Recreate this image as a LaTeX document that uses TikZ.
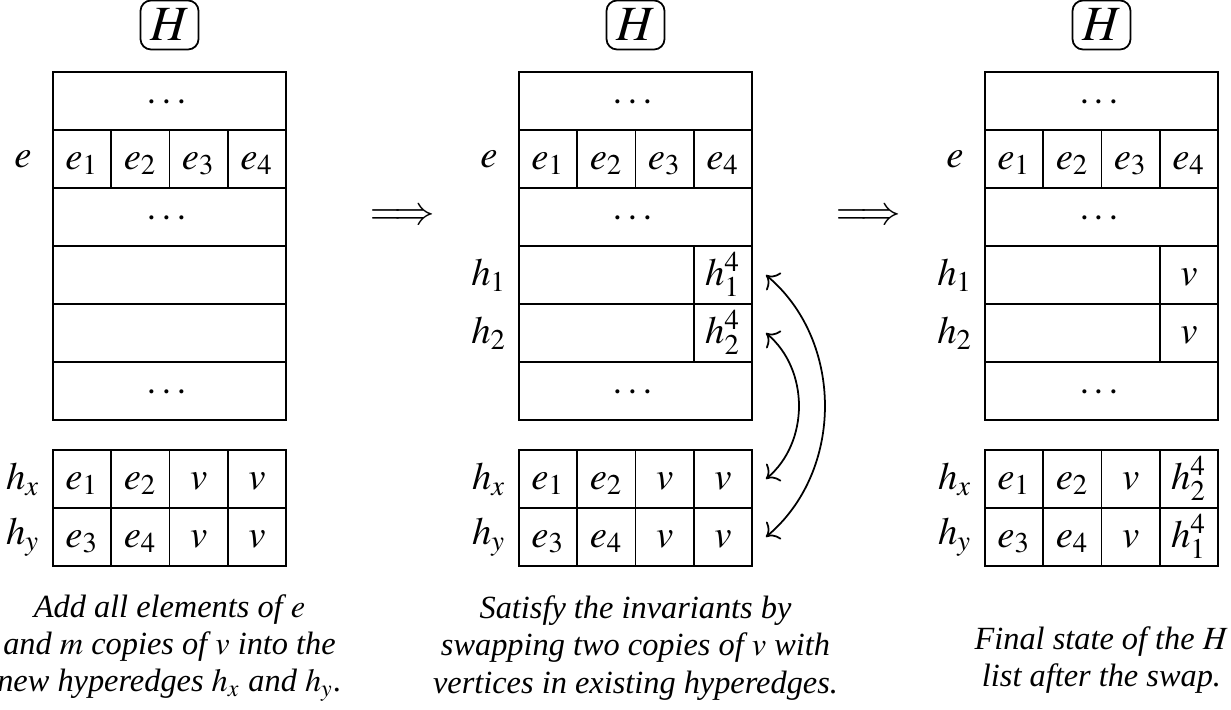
\documentclass[tikz,border=0pt]{standalone}
\usepackage{amsmath}
\usepackage{mathptmx}
\usepackage[no-math]{fontspec}
\setmainfont{Liberation Serif}
\usetikzlibrary{arrows.meta}

\tikzset{
  cell/.style={draw, line width=0.5pt, minimum width=0.5825cm, minimum height=0.58cm, inner sep=0pt, text height=1.6ex, text depth=0.35ex},
  fullrow/.style={cell, minimum width=2.33cm},
  widecell/.style={cell, minimum width=1.7475cm},
  hbox/.style={draw, line width=0.5pt, rounded corners=3pt, minimum width=0.58cm, minimum height=0.49cm, inner sep=0pt, font=\fontsize{14}{16}\selectfont},
  caption/.style={align=center, inner sep=0pt, font=\fontsize{9.2}{10.6}\selectfont\itshape},
  implies/.style={font=\fontsize{11.5}{13}\selectfont},
}

\begin{document}
\begin{tikzpicture}[x=0.01cm, y=-0.01cm, font=\fontsize{11}{13}\selectfont, >={Computer Modern Rightarrow[scale=1.15]}]
\useasboundingbox (0,0) rectangle (1231,710);

% left panel
\node[hbox] (HL) at (169.5,25) {$H$};
\node[fullrow] (Ltop) at (169.5,101) {$\cdots$};
\node (Le) at (23,159) {$e$};
\node[cell] (Le1) at (82.1,159) {$e_1$};
\node[cell] (Le2) at (140.4,159) {$e_2$};
\node[cell] (Le3) at (198.6,159) {$e_3$};
\node[cell] (Le4) at (256.9,159) {$e_4$};
\node[fullrow] (Lmid) at (169.5,217) {$\cdots$};
\node[fullrow] (La) at (169.5,275) {};
\node[fullrow] (Lb) at (169.5,333) {};
\node[fullrow] (Lbot) at (169.5,391) {$\cdots$};
\node (Lhx) at (23,479) {$h_x$};
\node[cell] (Lx1) at (82.1,479) {$e_1$};
\node[cell] (Lx2) at (140.4,479) {$e_2$};
\node[cell] (Lx3) at (198.6,479) {$v$};
\node[cell] (Lx4) at (256.9,479) {$v$};
\node (Lhy) at (23,537) {$h_y$};
\node[cell] (Ly1) at (82.1,537) {$e_3$};
\node[cell] (Ly2) at (140.4,537) {$e_4$};
\node[cell] (Ly3) at (198.6,537) {$v$};
\node[cell] (Ly4) at (256.9,537) {$v$};
\node[caption] (CL) at (169.5,648) {Add all elements of $e$\\and $m$ copies of $v$ into the\\new hyperedges $h_x$ and $h_y$.};

\node[implies] (A1) at (402.5,217) {$\Longrightarrow$};

% middle panel
\node[hbox] (HM) at (635.5,25) {$H$};
\node[fullrow] (Mtop) at (635.5,101) {$\cdots$};
\node (Me) at (489,159) {$e$};
\node[cell] (Me1) at (548.1,159) {$e_1$};
\node[cell] (Me2) at (606.4,159) {$e_2$};
\node[cell] (Me3) at (664.6,159) {$e_3$};
\node[cell] (Me4) at (722.9,159) {$e_4$};
\node[fullrow] (Mmid) at (635.5,217) {$\cdots$};
\node (Mh1) at (489,275) {$h_1$};
\node[widecell] (Ma) at (606.4,275) {};
\node[cell] (Ma4) at (722.9,275) {$h_1^4$};
\node (Mh2) at (489,333) {$h_2$};
\node[widecell] (Mb) at (606.4,333) {};
\node[cell] (Mb4) at (722.9,333) {$h_2^4$};
\node[fullrow] (Mbot) at (635.5,391) {$\cdots$};
\node (Mhx) at (489,479) {$h_x$};
\node[cell] (Mx1) at (548.1,479) {$e_1$};
\node[cell] (Mx2) at (606.4,479) {$e_2$};
\node[cell] (Mx3) at (664.6,479) {$v$};
\node[cell] (Mx4) at (722.9,479) {$v$};
\node (Mhy) at (489,537) {$h_y$};
\node[cell] (My1) at (548.1,537) {$e_3$};
\node[cell] (My2) at (606.4,537) {$e_4$};
\node[cell] (My3) at (664.6,537) {$v$};
\node[cell] (My4) at (722.9,537) {$v$};
\node[caption] (CM) at (635.5,648) {Satisfy the invariants by\\swapping two copies of $v$ with\\vertices in existing hyperedges.};
\draw[<->, line width=0.5pt] ([xshift=0.13cm]Ma4.east) to[bend left=50] ([xshift=0.13cm]My4.east);
\draw[<->, line width=0.5pt] ([xshift=0.13cm]Mb4.east) to[bend left=50] ([xshift=0.13cm]Mx4.east);

\node[implies] (A2) at (868.5,217) {$\Longrightarrow$};

% right panel
\node[hbox] (HR) at (1101.5,25) {$H$};
\node[fullrow] (Rtop) at (1101.5,101) {$\cdots$};
\node (Re) at (955,159) {$e$};
\node[cell] (Re1) at (1014.1,159) {$e_1$};
\node[cell] (Re2) at (1072.4,159) {$e_2$};
\node[cell] (Re3) at (1130.6,159) {$e_3$};
\node[cell] (Re4) at (1188.9,159) {$e_4$};
\node[fullrow] (Rmid) at (1101.5,217) {$\cdots$};
\node (Rh1) at (955,275) {$h_1$};
\node[widecell] (Ra) at (1072.4,275) {};
\node[cell] (Ra4) at (1188.9,275) {$v$};
\node (Rh2) at (955,333) {$h_2$};
\node[widecell] (Rb) at (1072.4,333) {};
\node[cell] (Rb4) at (1188.9,333) {$v$};
\node[fullrow] (Rbot) at (1101.5,391) {$\cdots$};
\node (Rhx) at (955,479) {$h_x$};
\node[cell] (Rx1) at (1014.1,479) {$e_1$};
\node[cell] (Rx2) at (1072.4,479) {$e_2$};
\node[cell] (Rx3) at (1130.6,479) {$v$};
\node[cell] (Rx4) at (1188.9,479) {$h_2^4$};
\node (Rhy) at (955,537) {$h_y$};
\node[cell] (Ry1) at (1014.1,537) {$e_3$};
\node[cell] (Ry2) at (1072.4,537) {$e_4$};
\node[cell] (Ry3) at (1130.6,537) {$v$};
\node[cell] (Ry4) at (1188.9,537) {$h_1^4$};
\node[caption] (CR) at (1101.5,660) {Final state of the $H$\\list after the swap.};
\end{tikzpicture}
\end{document}
